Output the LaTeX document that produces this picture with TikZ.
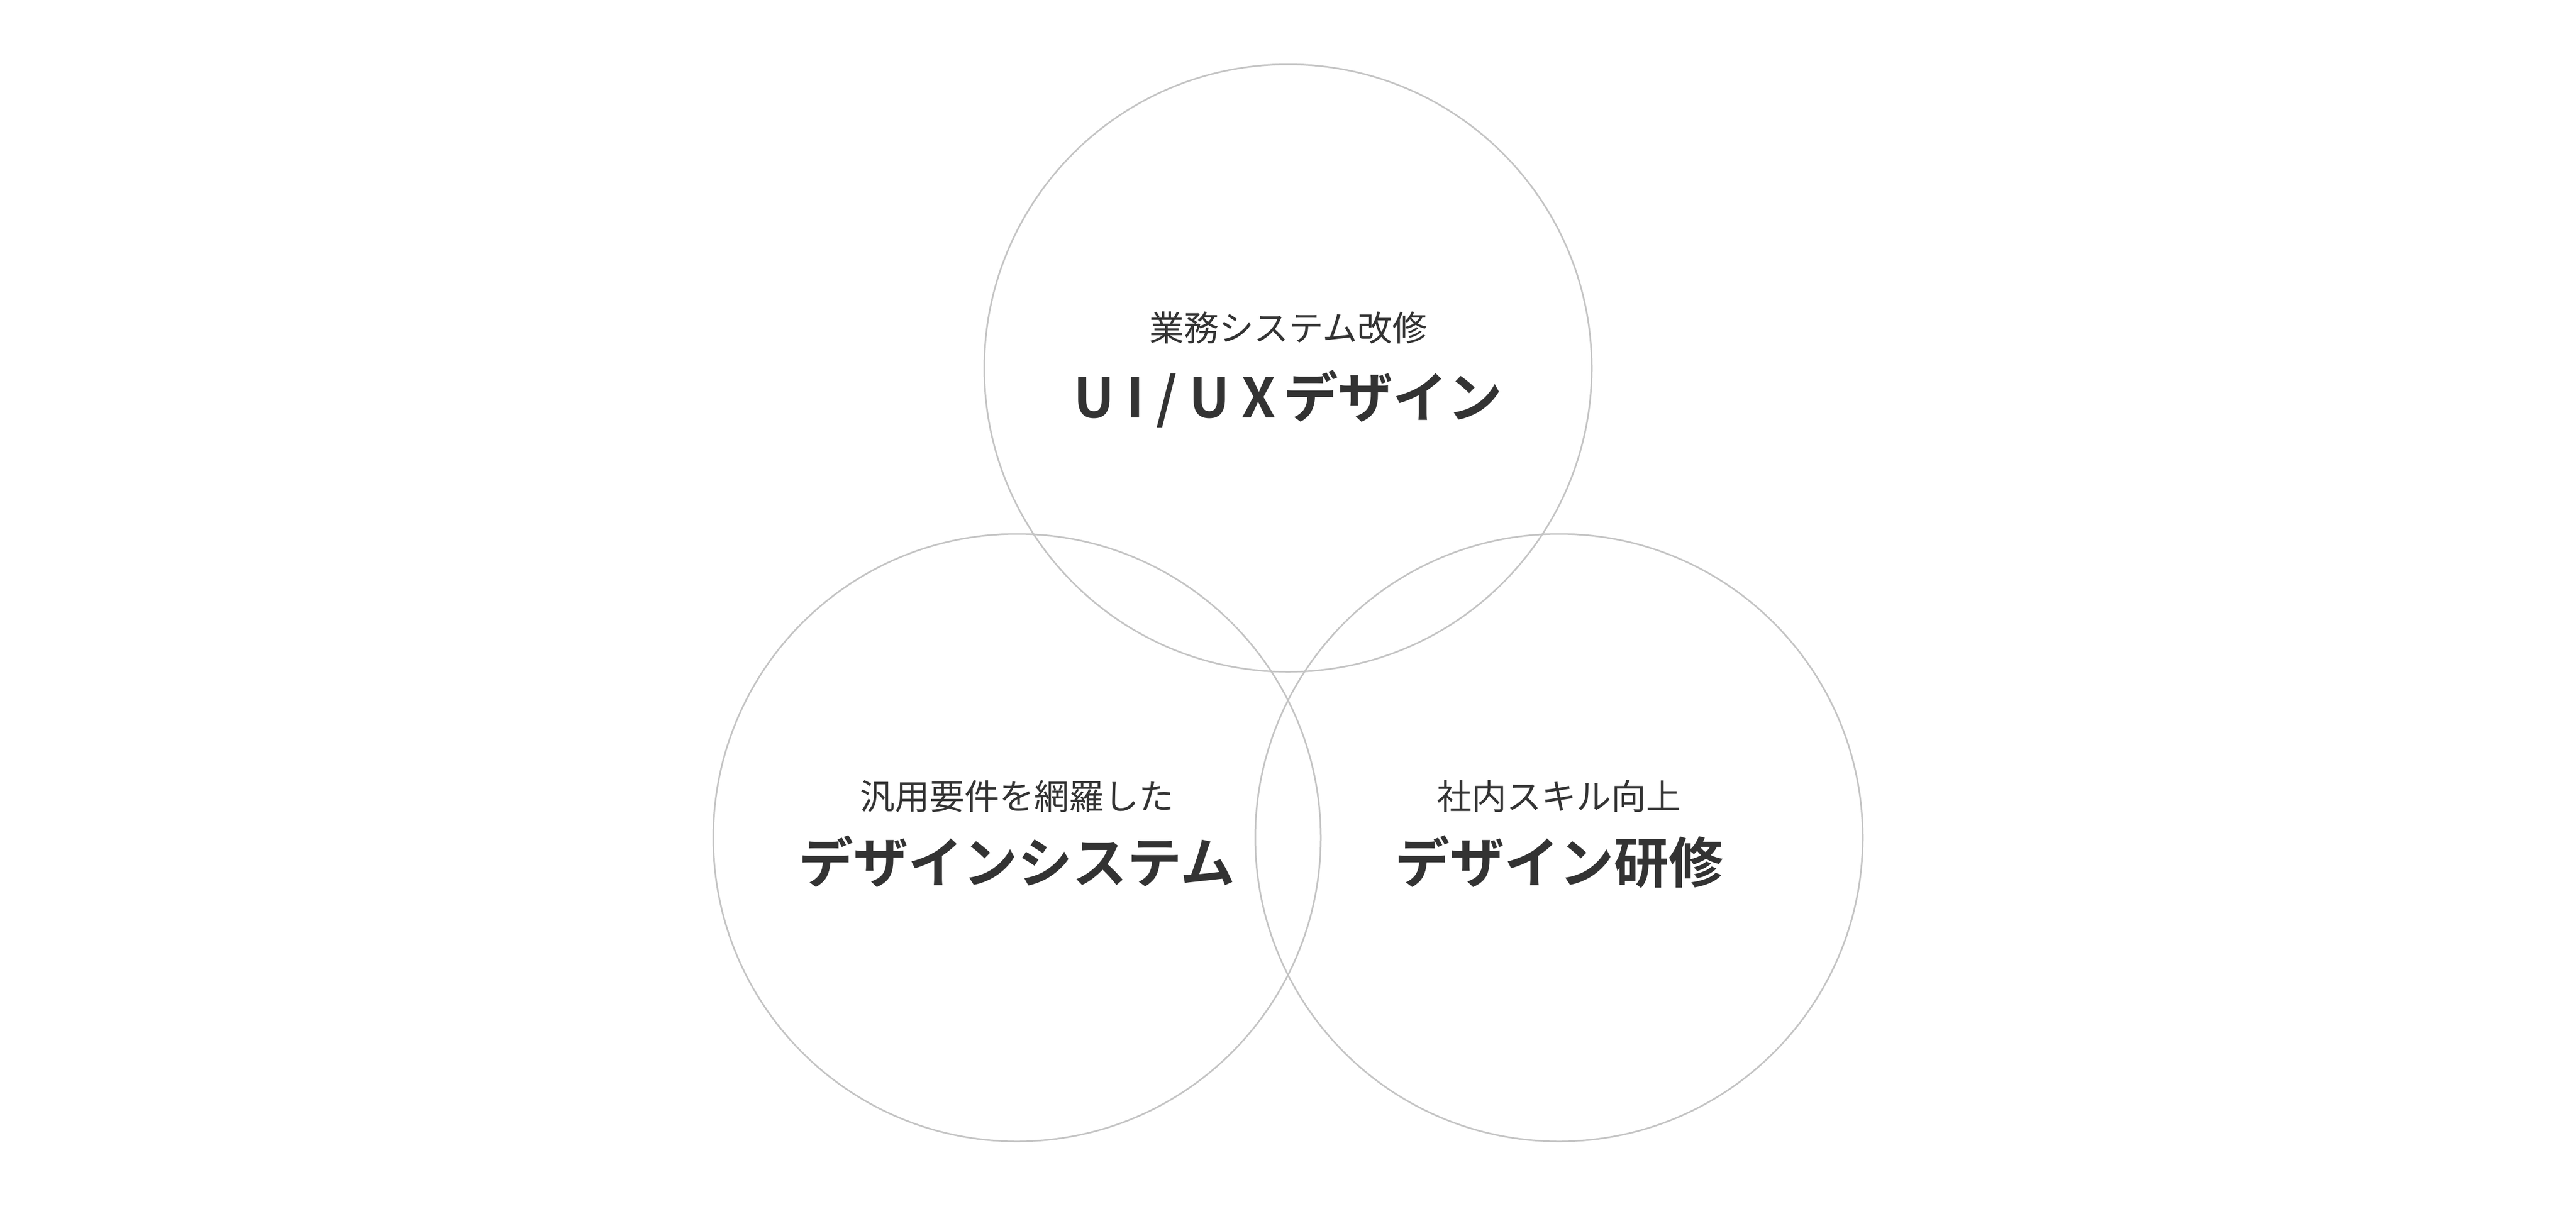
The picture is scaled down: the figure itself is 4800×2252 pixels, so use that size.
\documentclass[tikz,border=0pt]{standalone}
\usepackage{fontspec}
\newfontfamily\jpreg{Noto Sans CJK JP}
\newfontfamily\jpbold{Noto Sans CJK JP Bold}
\definecolor{ringgray}{HTML}{C4C4C4}
\definecolor{textdark}{HTML}{333333}
\tikzset{
  ring/.style={draw=ringgray, line width=3pt},
  subtxt/.style={anchor=base, inner sep=0pt, text=textdark, font=\jpreg\fontsize{65}{72}\selectfont},
  titletxt/.style={anchor=base, inner sep=0pt, text=textdark, font=\jpbold\fontsize{102}{112}\selectfont},
}
\begin{document}
\begin{tikzpicture}[x=1pt,y=-1pt]
\useasboundingbox (0,0) rectangle (4800,2252);
\node[ring, circle, minimum size=1132pt, inner sep=0pt] (top) at (2400,686) {};
\node[ring, circle, minimum size=1132pt, inner sep=0pt] (left) at (1895,1561) {};
\node[ring, circle, minimum size=1132pt, inner sep=0pt] (right) at (2905,1561) {};
\node[subtxt] (topsub) at (2400,635) {業務システム改修};
\node[titletxt] (toptitle) at (2400,778) {U\kern22pt I\kern22pt /\kern22pt U\kern22pt X\kern14pt デザイン};
\node[subtxt] (leftsub) at (1895,1508) {汎用要件を網羅した};
\node[titletxt] (lefttitle) at (1895,1645) {デザインシステム};
\node[subtxt] (rightsub) at (2905,1508) {社内スキル向上};
\node[titletxt] (righttitle) at (2905,1645) {デザイン研修};
\end{tikzpicture}
\end{document}
